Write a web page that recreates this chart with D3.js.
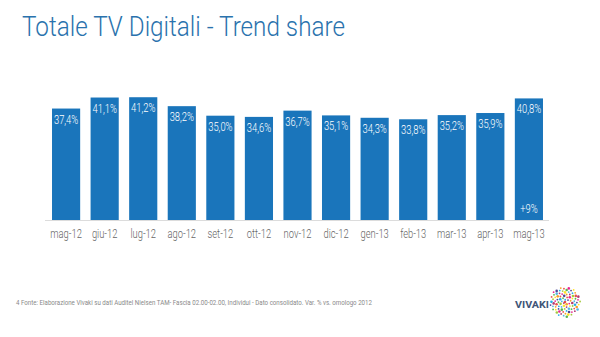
<!DOCTYPE html>
<html lang="it">
  <head>
    <meta charset="utf-8">
    <title>Totale TV Digitali - Trend share</title>
    <script src="https://d3js.org/d3.v7.min.js"></script>
    <style type="text/css">
      html, body {
        margin: 0; padding: 0;
        background: #fff;
      }
      svg text {
        font-family: Roboto, "Liberation Sans", sans-serif;
      }
    </style>
  </head>
  <body>
    <svg width="600" height="337"></svg>
    <script type="text/javascript">

      // months and share values (%)
      var months = ["mag-12", "giu-12", "lug-12", "ago-12", "set-12", "ott-12", "nov-12",
                    "dic-12", "gen-13", "feb-13", "mar-13", "apr-13", "mag-13"];
      var shares = [37.4, 41.1, 41.2, 38.2, 35.0, 34.6, 36.7, 35.1, 34.3, 33.8, 35.2, 35.9, 40.8];
      var yoyNote = "+9%";

      var w = 600, h = 337;
      var svg = d3.select("svg");

      // no narrow font here, so squeeze text horizontally
      var squeeze = 0.78;

      // title
      svg.append("text")
         .attr("x", 22)
         .attr("y", 36)
         .attr("textLength", 323)
         .attr("lengthAdjust", "spacingAndGlyphs")
         .style("font-size", "28px")
         .style("font-weight", 300)
         .style("fill", "#2a72ad")
         .text("Totale TV Digitali - Trend share");

      var x = d3.scaleBand()
                .domain(months)
                .range([47, 548])
                .paddingInner(0.27)
                .paddingOuter(0.13);

      var y = d3.scaleLinear()
                .domain([0, 42])
                .range([220, 220 - 42 * 2.98]);

      var fmt = function(v) { return v.toFixed(1).replace(".", ",") + "%"; };
      var mid = function(i) { return x(months[i]) + x.bandwidth() / 2; };

      var bars = svg.append("g");
      bars.selectAll("rect")
          .data(shares)
          .enter()
          .append("rect")
          .attr("x", function(d, i) { return x(months[i]); })
          .attr("y", function(d) { return y(d); })
          .attr("width", x.bandwidth())
          .attr("height", function(d) { return y(0) - y(d); })
          .style("fill", "#1a75bb");

      bars.selectAll("text")
          .data(shares)
          .enter()
          .append("text")
          .attr("transform", function(d, i) {
            return "translate(" + mid(i) + "," + (y(d) + 15) + ") scale(" + squeeze + ",1)";
          })
          .attr("text-anchor", "middle")
          .style("font-size", "12px")
          .style("font-weight", 300)
          .style("fill", "#fff")
          .text(fmt);

      // year-over-year note at the foot of the last bar
      svg.append("text")
         .attr("transform", "translate(" + mid(months.length - 1) + ",213) scale(" + squeeze + ",1)")
         .attr("text-anchor", "middle")
         .style("font-size", "12px")
         .style("font-weight", 300)
         .style("fill", "#fff")
         .text(yoyNote);

      // x axis
      var xAxis = svg.append("g")
                     .attr("transform", "translate(0,220)")
                     .call(d3.axisBottom(x).tickSize(0).tickPadding(0));
      xAxis.select(".domain")
           .attr("d", "M45,0.5H549")
           .style("stroke", "#dcdcdc");
      xAxis.selectAll(".tick text")
           .attr("y", 0)
           .attr("dy", 0)
           .attr("transform", "translate(0,18) scale(" + squeeze + ",1)")
           .style("font-size", "12px")
           .style("font-weight", 300)
           .style("fill", "#666");

      // footnote
      svg.append("text")
         .attr("x", 16)
         .attr("y", 305)
         .attr("textLength", 356)
         .attr("lengthAdjust", "spacingAndGlyphs")
         .style("font-size", "7px")
         .style("fill", "#8a8a8a")
         .text("4   Fonte: Elaborazione Vivaki su dati Auditel Nielsen TAM- Fascia 02.00-02.00, Individui - Dato consolidato. Var. % vs. omologo 2012");

      // logo
      var logo = svg.append("g");
      logo.append("text")
          .attr("x", 515)
          .attr("y", 308)
          .attr("textLength", 34)
          .attr("lengthAdjust", "spacingAndGlyphs")
          .style("font-weight", "bold")
          .style("font-size", "9.5px")
          .style("fill", "#3f5577")
          .text("VIVAKI");

      var burstColors = ["#e6332a", "#f39200", "#ffde00", "#95c11f", "#009fe3",
                         "#312783", "#e6007e", "#a3195b", "#36a9e1", "#3aaa35"];
      var dots = d3.range(90);
      logo.selectAll("circle")
          .data(dots)
          .enter()
          .append("circle")
          .attr("cx", function(d) { return 565 + Math.sqrt(d) * 1.6 * Math.cos(d * 2.39996); })
          .attr("cy", function(d) { return 302 + Math.sqrt(d) * 1.6 * Math.sin(d * 2.39996); })
          .attr("r", function(d) { return d % 3 === 0 ? 1.3 : 0.9; })
          .style("fill", function(d) { return burstColors[(d * 7) % burstColors.length]; })
          .style("opacity", 0.85);

    </script>
  </body>
</html>
